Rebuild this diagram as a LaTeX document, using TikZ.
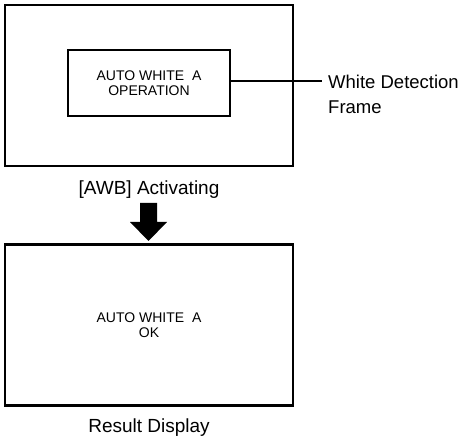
\documentclass[tikz,border=0pt]{standalone}
\usepackage{fontspec}
\setmainfont{Liberation Sans}
\usepackage{tikz}
\usetikzlibrary{positioning, calc}

\begin{document}
\begin{tikzpicture}[x=1pt, y=-1pt, node distance=6pt]
\tikzstyle{screen} = [rectangle, draw=black, line width=2.2pt, minimum width=288pt, minimum height=161pt, inner sep=0pt]
\tikzstyle{frame} = [rectangle, draw=black, line width=2.2pt, minimum width=162pt, minimum height=66pt, inner sep=0pt]
\tikzstyle{msg} = [align=center, font=\fontsize{14}{14.5}\selectfont, inner sep=0pt]
\tikzstyle{caption} = [font=\fontsize{19}{24}\selectfont, inner sep=0pt]
\tikzstyle{leader} = [draw, line width=1.4pt, black]

\useasboundingbox (0,0) rectangle (459,438);

\node (awb) [screen] at (149,85.5) {};
\node (detect) [frame] at (149,83) {};
\node (opmsg) [msg] at (detect.center) {AUTO WHITE\ \ A\\OPERATION};
\node (awbcap) [caption, below=13pt of awb] {[AWB] Activating};

\coordinate (lead) at (322,81);
\draw [leader] (detect.east |- lead) -- (lead);
\node (wdf) [caption, align=left, font=\fontsize{18.5}{25}\selectfont, right=6pt of lead, yshift=-13pt] {White Detection\\Frame};

\node (result) [screen] at (149,325) {};
\node (okmsg) [msg] at (result.center) {AUTO WHITE\ \ A\\OK};
\node (rescap) [caption, below=12pt of result] {Result Display};

\fill [black] (140,203) -- (157,203) -- (157,222) -- (167,222) -- (148.5,241) -- (130,222) -- (140,222) -- cycle;
\end{tikzpicture}
\end{document}
